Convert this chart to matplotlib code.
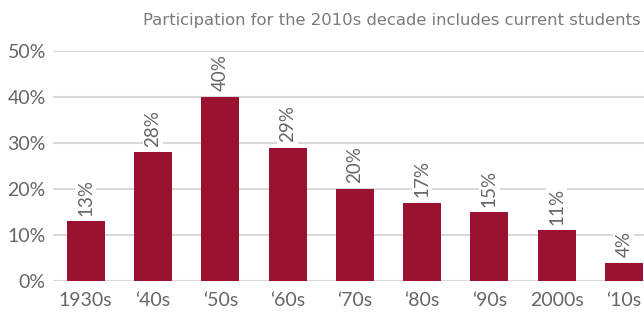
import matplotlib.pyplot as plt

decades = ["1930s", "‘40s", "‘50s", "‘60s", "‘70s", "‘80s", "‘90s", "2000s", "‘10s"]
participation = [13, 28, 40, 29, 20, 17, 15, 11, 4]
yticks = [0, 10, 20, 30, 40, 50]

bar_color = "#9b1230"
text_color = "#666666"

fig = plt.figure(figsize=(6.44, 3.13), dpi=100)
ax = fig.add_axes([0.082, 0.102, 0.918, 0.735])

x = range(len(decades))
ax.bar(x, participation, width=0.565, color=bar_color, zorder=2)

for xi, v in zip(x, participation):
    ax.annotate(f"{v}%", (xi, v), xytext=(0, 4), textcoords="offset points",
                rotation=90, ha="center", va="bottom", fontsize=13.5,
                family="Lato", color=text_color, zorder=3,
                bbox=dict(boxstyle="square,pad=0.1", fc="white", ec="none"))

ax.set_ylim(0, 50)
ax.set_xlim(-0.49, 8.3)
ax.set_yticks(yticks)
ax.set_yticklabels([f"{t}%" for t in yticks])
ax.set_xticks(list(x))
ax.set_xticklabels(decades)
ax.yaxis.grid(True, color="#d9d9d9", linewidth=1.5, zorder=0)
ax.set_axisbelow(True)
for s in ax.spines.values():
    s.set_visible(False)
ax.tick_params(length=0, labelsize=14, colors=text_color, pad=8)
for lab in ax.get_xticklabels() + ax.get_yticklabels():
    lab.set_family("Lato")
ax.tick_params(axis="y", pad=5)

fig.text(0.995, 0.935, "Participation for the 2010s decade includes current students",
         ha="right", va="center", fontsize=11.8, color="#7a7a7a", family="DejaVu Sans")

fig.savefig("out.png", dpi=100)
